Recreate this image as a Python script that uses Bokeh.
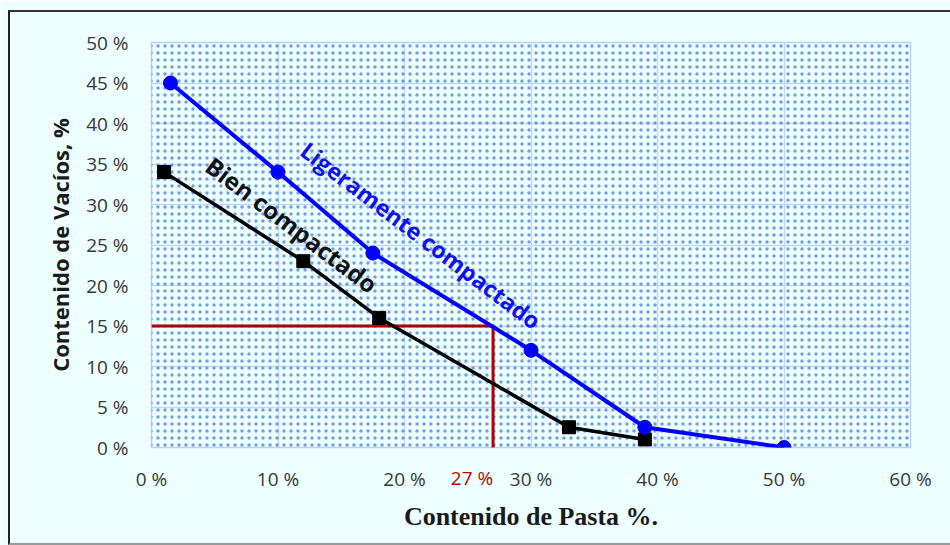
from bokeh.plotting import figure
from bokeh.models import (Range1d, FixedTicker, CustomJSTickFormatter, BoxAnnotation,
                          Label, LinearAxis, InlineStyleSheet)
from bokeh.embed import file_html
from bokeh.resources import INLINE

# ---- data ----
lig_x = [1.5, 10, 17.5, 30, 39, 50]
lig_y = [45, 34, 24, 12, 2.5, 0]
bien_x = [1, 12, 18, 33, 39]
bien_y = [34, 23, 16, 2.5, 1]
ref_x = [0, 27, 27]
ref_y = [15, 15, -0.3]
x_ticks = [0, 10, 20, 30, 40, 50, 60]
y_ticks = [0, 5, 10, 15, 20, 25, 30, 35, 40, 45, 50]
ref_ticks = [27]
x_title = "Contenido de Pasta %."
y_title = "Contenido de Vacíos, %"
lig_name = "Ligeramente compactado"
bien_name = "Bien compactado"

X0, X1, Y0, Y1 = 0, 60, 0, 50
BG = "#EEFFFF"
FRAME_L, FRAME_R, FRAME_T, FRAME_B = 151, 40, 42, 98
FRAME_W = 950 - FRAME_L - FRAME_R
pct = CustomJSTickFormatter(code="return tick + ' %'")

p = figure(width=950, height=545, output_backend="svg", toolbar_location=None,
           x_range=Range1d(X0, X1), y_range=Range1d(Y0, Y1),
           min_border_left=FRAME_L, min_border_right=FRAME_R,
           min_border_top=FRAME_T, min_border_bottom=FRAME_B)
p.background_fill_color = BG
p.border_fill_color = BG
p.outline_line_color = "#BDD0EE"
p.outline_line_width = 1.5

# outer page frame (drawn with CSS, outside the plot canvas)
p.stylesheets = [InlineStyleSheet(css="""
:host::after {
  content: ''; position: absolute; left: 8px; top: 10px;
  width: 980px; height: 535px; box-sizing: border-box;
  border-left: 2px solid #222; border-top: 2px solid #333;
  border-bottom: 2px solid #9a9a9a; pointer-events: none; z-index: 10;
}
""")]

# dotted fill of plot area
p.add_layout(BoxAnnotation(level="underlay", fill_alpha=0, line_alpha=0,
                           hatch_pattern=".", hatch_color="#3A78D8",
                           hatch_scale=7, hatch_alpha=0.7, hatch_weight=1))

def style_axis(ax, ticks):
    ax.ticker = FixedTicker(ticks=ticks)
    ax.formatter = pct
    ax.axis_line_color = None
    ax.major_tick_line_color = None
    ax.minor_tick_line_color = None
    ax.major_tick_out = 0
    ax.major_tick_in = 0
    ax.major_label_text_font = "Open Sans"
    ax.major_label_text_font_size = "19px"
    ax.major_label_text_color = "#383838"

style_axis(p.xaxis[0], x_ticks)
style_axis(p.yaxis[0], y_ticks)
p.xaxis[0].major_label_standoff = 18
p.yaxis[0].major_label_standoff = 23

# second x axis for the red reference value (label sits left of its line)
# and carrying the axis title; its range is shifted so the centred label
# ends at the reference line
shift = 21 * (X1 - X0) / FRAME_W
p.extra_x_ranges = {"ref": Range1d(X0 + shift, X1 + shift)}
ax2 = LinearAxis(x_range_name="ref")
style_axis(ax2, ref_ticks)
ax2.major_label_text_color = "#C00000"
ax2.major_label_standoff = -30
ax2.axis_label = x_title
ax2.axis_label_text_font = "Liberation Serif"
ax2.axis_label_text_font_style = "bold"
ax2.axis_label_text_font_size = "26px"
ax2.axis_label_text_color = "#1a1a1a"
ax2.axis_label_standoff = 8
p.add_layout(ax2, "below")

p.yaxis.axis_label = y_title
p.yaxis.axis_label_text_font = "Open Sans"
p.yaxis.axis_label_text_font_style = "bold"
p.yaxis.axis_label_text_font_size = "22px"
p.yaxis.axis_label_text_color = "#1a1a1a"
p.yaxis.axis_label_standoff = 8

p.xgrid.grid_line_color = "#C6D6F4"
p.ygrid.grid_line_color = "#C6D6F4"
p.xgrid.grid_line_width = 1.5
p.ygrid.grid_line_width = 1.5

# series
p.line(ref_x, ref_y, line_color="#B00000", line_width=3)
p.line(bien_x, bien_y, line_color="black", line_width=3.5)
p.scatter(bien_x, bien_y, marker="square", size=13, color="black")
p.line(lig_x, lig_y, line_color="#0000FF", line_width=4)
p.scatter(lig_x, lig_y, marker="circle", size=14, color="#0000FF")

p.add_layout(Label(x=21.3, y=26.2, text=lig_name, angle=-37, angle_units="deg",
                   text_align="center", text_baseline="middle", text_font="Open Sans",
                   text_font_style="bold", text_font_size="23px", text_color="#1010F0"))
p.add_layout(Label(x=11.1, y=27.5, text=bien_name, angle=-37, angle_units="deg",
                   text_align="center", text_baseline="middle", text_font="Open Sans",
                   text_font_style="bold", text_font_size="24px", text_color="#111111"))

open("out.html", "w").write(file_html(p, INLINE))
